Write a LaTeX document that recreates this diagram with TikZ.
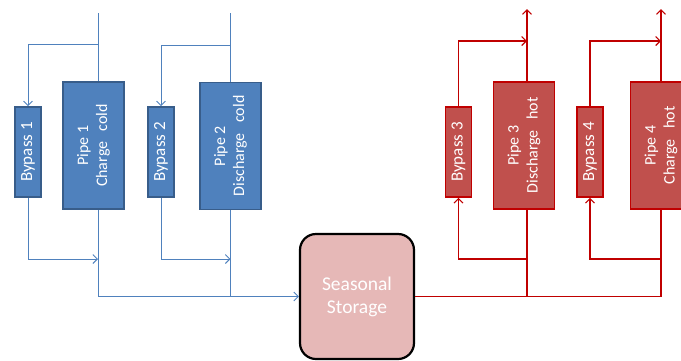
\documentclass[tikz,border=0pt]{standalone}
\usepackage{fontspec}
\setmainfont{Carlito}
\usepackage{tikz}
\usetikzlibrary{arrows.meta}
\usepackage{xcolor}
\definecolor{coldfill}{HTML}{4F81BD}
\definecolor{colddraw}{HTML}{385D8A}
\definecolor{hotfill}{HTML}{C0504D}
\definecolor{hotdraw}{HTML}{C00000}
\definecolor{storefill}{HTML}{E6B8B7}
\newcommand{\wide}{\hspace{0.65em}}
\tikzset{%
	pipe box/.style={
		rectangle,
		rotate=90,
		line width=1.6pt,
		text=white,
		align=center,
		inner sep=0pt,
		minimum width=127pt,
		minimum height=61pt,
		font=\fontsize{16}{19}\selectfont
	},
	bypass box/.style={
		pipe box,
		minimum width=90pt,
		minimum height=26pt,
		font=\fontsize{17}{19}\selectfont
	},
	cold box/.style={fill=coldfill, draw=colddraw},
	hot box/.style={fill=hotfill, draw=hotdraw},
	storage box/.style={
		rectangle,
		rounded corners=16pt,
		draw=black,
		fill=storefill,
		line width=2.2pt,
		text=white,
		align=center,
		minimum width=114pt,
		minimum height=125pt,
		font=\fontsize{19.5}{23}\selectfont
	},
	line cold/.style={draw=coldfill, line width=0.9pt},
	line hot/.style={draw=hotdraw, line width=1.1pt},
	flow cold/.style={line cold, -{Straight Barb[length=4.5pt,width=9pt]}},
	flow hot/.style={line hot, -{Straight Barb[length=4.5pt,width=9pt]}},
}

\begin{document}
\begin{tikzpicture}[x=1pt, y=-1pt]
			\clip (0,0) rectangle (681,360);
			
			% Cold side: bypasses and pipes
			\node[bypass box, cold box] (b1) at (28,152) {Bypass 1};
			\node[pipe box, cold box] (p1) at (93.5,145.5) {Pipe 1\\Charge\wide cold};
			\node[bypass box, cold box] (b2) at (161,152) {Bypass 2};
			\node[pipe box, cold box] (p2) at (230.5,146) {Pipe 2\\Discharge\wide cold};
			
			% Hot side: bypasses and pipes
			\node[bypass box, hot box] (b3) at (458.5,152) {Bypass 3};
			\node[pipe box, hot box] (p3) at (524,145.5) {Pipe 3\\Discharge\wide hot};
			\node[bypass box, hot box] (b4) at (590,152) {Bypass 4};
			\node[pipe box, hot box] (p4) at (661,145.5) {Pipe 4\\Charge\wide hot};
			
			% Storage in the middle
			\node[storage box] (st) at (357,296.5) {Seasonal\\Storage};
			
			% Cold flows into the storage
			\coordinate (in1) at (98,13);
			\coordinate (in2) at (230.5,13);
			\coordinate (t1) at (98,44);
			\coordinate (t2) at (230.5,45);
			\coordinate (r1) at (98,259);
			\coordinate (r2) at (230.5,259);
			\draw[line cold] (in1) -- (in1 |- p1.east);
			\draw[line cold] (in2) -- (in2 |- p2.east);
			\draw[flow cold] (t1) -| (b1.east);
			\draw[flow cold] (t2) -| (b2.east);
			\draw[flow cold] (b1.west) |- (r1);
			\draw[flow cold] (b2.west) |- (r2);
			\draw[flow cold] (in1 |- p1.west) |- (st.west);
			\draw[line cold] (in2 |- p2.west) -- (in2 |- st.west);
			
			% Hot flows out of the storage
			\coordinate (out3) at (527,9);
			\coordinate (out4) at (661,9);
			\coordinate (m3) at (527,41);
			\coordinate (m4) at (661,41);
			\coordinate (s3) at (527,259);
			\coordinate (s4) at (661,259);
			\draw[line hot] (st.east) -- (out4 |- st.east);
			\draw[line hot] (out3 |- st.east) -- (out3 |- p3.west);
			\draw[line hot] (out4 |- st.east) -- (out4 |- p4.west);
			\draw[flow hot] (out3 |- p3.east) -- (out3);
			\draw[flow hot] (out4 |- p4.east) -- (out4);
			\draw[flow hot] (s3) -| (b3.west);
			\draw[flow hot] (s4) -| (b4.west);
			\draw[flow hot] (b3.east) |- (m3);
			\draw[flow hot] (b4.east) |- (m4);
		\end{tikzpicture}
\end{document}
